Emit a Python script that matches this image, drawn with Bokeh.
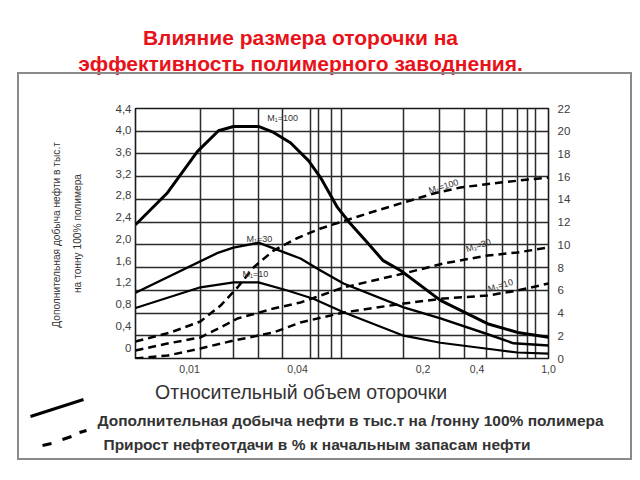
from bokeh.plotting import figure
from bokeh.layouts import column
from bokeh.models import (Range1d, LinearAxis, FixedTicker, Label, InlineStyleSheet)
from bokeh.embed import file_html
from bokeh.resources import INLINE

# ---------------- data ----------------
x_ticks = [0.01, 0.04, 0.2, 0.4, 1.0]
x_tick_labels = ["0,01", "0,04", "0,2", "0,4", "1,0"]

left_ticks = [0, 0.4, 0.8, 1.2, 1.6, 2.0, 2.4, 2.8, 3.2, 3.6, 4.0, 4.4]
left_tick_labels = ["0", "0,4", "0,8", "1,2", "1,6", "2,0", "2,4", "2,8", "3,2", "3,6", "4,0", "4,4"]

right_ticks = [0, 2, 4, 6, 8, 10, 12, 14, 16, 18, 20, 22]

grid_x = [0.0115, 0.0176, 0.0242, 0.033, 0.047, 0.052, 0.062, 0.07,
          0.156, 0.247, 0.34, 0.45, 0.555, 0.67, 0.765, 0.845]
grid_y = [2, 4, 6, 8, 10, 12, 14, 16, 18, 20]

# solid: additional oil production, thousand t per t of polymer (left axis)
sol100_x = [0.005, 0.00754, 0.01108, 0.0145, 0.01757, 0.0242, 0.0294, 0.0365, 0.046,
            0.0537, 0.0667, 0.0788, 0.0956, 0.120, 0.150, 0.250, 0.457, 0.672, 1.0]
sol100_y = [2.26, 2.85, 3.61, 3.99, 4.07, 4.07, 3.96, 3.77, 3.44,
            3.13, 2.58, 2.28, 1.97, 1.60, 1.42, 0.87, 0.44, 0.28, 0.19]

sol30_x = [0.005, 0.0145, 0.01757, 0.0242, 0.0415, 0.0537, 0.0721, 0.156, 0.25, 0.446, 0.638, 1.0]
sol30_y = [1.01, 1.75, 1.84, 1.93, 1.64, 1.42, 1.18, 0.74, 0.54, 0.26, 0.08, 0.04]

sol10_x = [0.005, 0.0115, 0.0176, 0.0242, 0.0351, 0.049, 0.0721, 0.156, 0.25, 0.457, 0.672, 1.0]
sol10_y = [0.73, 1.11, 1.20, 1.20, 1.05, 0.90, 0.65, 0.22, 0.09, -0.02, -0.09, -0.11]

# dashed: oil recovery increase, % of initial reserves (right axis)
dash100_x = [0.005, 0.00783, 0.0115, 0.0149, 0.0185, 0.0227, 0.0294, 0.0394, 0.0537,
             0.098, 0.156, 0.229, 0.323, 0.54, 1.0]
dash100_y = [1.50, 2.29, 3.26, 4.66, 6.25, 8.01, 9.50, 10.56, 11.44,
             12.76, 13.73, 14.52, 15.05, 15.49, 15.93]

dash30_x = [0.005, 0.00754, 0.0115, 0.0145, 0.0185, 0.0294, 0.0415, 0.0721, 0.156,
            0.26, 0.457, 0.672, 1.0]
dash30_y = [0.70, 1.32, 1.85, 2.64, 3.52, 4.40, 4.93, 6.25, 7.48,
            8.36, 9.06, 9.33, 9.77]

dash10_x = [0.005, 0.00754, 0.0115, 0.0176, 0.0294, 0.0415, 0.0721, 0.156, 0.26,
            0.457, 0.672, 1.0]
dash10_y = [0.0, 0.26, 0.88, 1.58, 2.29, 3.17, 4.05, 4.84, 5.28,
            5.54, 5.98, 6.60]

curve_labels = ["M\u2081=100", "M\u2081=30", "M\u2081=10"]

title_lines = ["Влияние размера оторочки на", "эффективность полимерного заводнения."]
x_title = "Относительный  объем  оторочки"
y_title = "Дополнительная добыча нефти в  тыс.т\nна тонну 100% полимера"
legend_texts = ["Дополнительная добыча нефти в  тыс.т  на /тонну 100% полимера",
                "Прирост нефтеотдачи в % к начальным запасам нефти"]

# ---------------- layout geometry (page pixels) ----------------
W = 640
HEAD_H = 80          # title strip: page y 0..80
MAIN_BOTTOM = 380    # main chart: page y 80..380
LEG_H = 480 - MAIN_BOTTOM
FL, FR, FT, FB = 135, 548, 108, 358
FONT = "Liberation Sans"


def blank_fig(h):
    f = figure(width=W, height=h, x_range=Range1d(0, W), y_range=Range1d(h, 0),
               x_axis_type=None, y_axis_type=None, output_backend="svg",
               toolbar_location=None, min_border=0)
    f.frame_align = False
    f.outline_line_color = None
    f.grid.visible = False
    f.background_fill_color = "white"
    f.border_fill_color = "white"
    return f

# ---------------- header ----------------
head = blank_fig(HEAD_H)
for txt, yb in zip(title_lines, (37, 63)):
    head.add_layout(Label(x=300, y=yb, text=txt, text_align="center",
                          text_baseline="alphabetic", text_font=FONT,
                          text_font_style="bold", text_font_size="21px",
                          text_color="#e8121a"))

# ---------------- main chart ----------------
p = figure(width=W, height=MAIN_BOTTOM - HEAD_H, x_axis_type="log",
           x_range=Range1d(0.005, 1.0), y_range=Range1d(0, 22),
           y_axis_location="right", output_backend="svg", toolbar_location=None,
           min_border_left=FL, min_border_right=W - FR,
           min_border_top=FT - HEAD_H, min_border_bottom=MAIN_BOTTOM - FB)
p.frame_align = False
p.extra_y_ranges = {"left": Range1d(-0.2, 4.4)}
p.background_fill_color = "white"
p.border_fill_color = "white"
p.outline_line_color = "#1a1a1a"
p.outline_line_width = 1.6


def style_axis(ax, size):
    ax.axis_line_color = None
    ax.major_tick_line_color = None
    ax.minor_tick_line_color = None
    ax.major_tick_out = 0
    ax.major_tick_in = 0
    ax.minor_tick_out = 0
    ax.minor_tick_in = 0
    ax.major_label_text_font = FONT
    ax.major_label_text_font_size = size
    ax.major_label_text_color = "#3c3c3c"

xa = p.xaxis[0]
xa.ticker = FixedTicker(ticks=x_ticks)
xa.major_label_overrides = dict(zip(x_ticks, x_tick_labels))
xa.major_label_standoff = 6
style_axis(xa, "10.5px")

ra = p.yaxis[0]
ra.ticker = FixedTicker(ticks=right_ticks)
ra.major_label_standoff = 9
style_axis(ra, "11.5px")

la = LinearAxis(y_range_name="left", ticker=FixedTicker(ticks=left_ticks))
la.major_label_overrides = dict(zip(left_ticks, left_tick_labels))
la.major_label_standoff = 4
style_axis(la, "11.5px")
la.axis_label = y_title
la.axis_label_standoff = 30
la.axis_label_text_font = FONT
la.axis_label_text_font_style = "normal"
la.axis_label_text_font_size = "10.2px"
la.axis_label_text_color = "#333333"
la.axis_label_text_line_height = 1.9
p.add_layout(la, "left")

p.xgrid.ticker = FixedTicker(ticks=grid_x)
p.ygrid.ticker = FixedTicker(ticks=grid_y)
for g in (p.xgrid, p.ygrid):
    g.grid_line_color = "#2b2b2b"
    g.grid_line_width = 1.5

p.line(sol100_x, sol100_y, y_range_name="left", line_color="black", line_width=3)
p.line(sol30_x, sol30_y, y_range_name="left", line_color="black", line_width=2.4)
p.line(sol10_x, sol10_y, y_range_name="left", line_color="black", line_width=2.2)
for xs, ys in ((dash100_x, dash100_y), (dash30_x, dash30_y), (dash10_x, dash10_y)):
    p.line(xs, ys, line_color="black", line_width=2.5, line_dash="8 5")

lab_style = dict(text_font=FONT, text_font_size="9px", text_color="#333333",
                 text_align="center", text_baseline="middle")
p.add_layout(Label(x=0.033, y=4.23, y_range_name="left", text=curve_labels[0], **lab_style))
p.add_layout(Label(x=0.0245, y=1.99, y_range_name="left", text=curve_labels[1], **lab_style))
p.add_layout(Label(x=0.0233, y=1.36, y_range_name="left", text=curve_labels[2], **lab_style))
p.add_layout(Label(x=0.26, y=15.14, angle=0.3, text=curve_labels[0], **lab_style))
p.add_layout(Label(x=0.407, y=9.94, angle=0.3, text=curve_labels[1], **lab_style))
p.add_layout(Label(x=0.54, y=6.42, angle=0.3, text=curve_labels[2], **lab_style))

# ---------------- x title + legend strip ----------------
leg = blank_fig(LEG_H)
Y0 = MAIN_BOTTOM
leg.add_layout(Label(x=306, y=391 - Y0, text=x_title, text_align="center",
                     text_baseline="alphabetic", text_font=FONT,
                     text_font_size="19.5px", text_color="#333333"))
# legend samples (decoration, page-pixel positions)
leg.line([30, 83], [416 - Y0, 399 - Y0], line_color="black", line_width=3)
leg.segment(x0=[42, 62, 79], y0=[445 - Y0, 439 - Y0, 432 - Y0],
            x1=[51, 71, 86], y1=[443 - Y0, 436 - Y0, 430 - Y0],
            line_color="black", line_width=3)
for txt, xl, yb in zip(legend_texts, (97, 103), (420, 444)):
    leg.add_layout(Label(x=xl, y=yb - Y0, text=txt, text_align="left",
                         text_baseline="alphabetic", text_font=FONT,
                         text_font_style="bold", text_font_size="15.5px",
                         text_color="#333333"))

box_css = InlineStyleSheet(css="""
:host { position: relative; }
:host::after {
  content: "";
  position: absolute;
  left: 17px; top: 72px; width: 611px; height: 384px;
  border: 2px solid #8a8a8a;
  pointer-events: none;
}
""")

page = column(head, p, leg, spacing=0, stylesheets=[box_css])

open("out.html", "w").write(file_html(page, INLINE))
